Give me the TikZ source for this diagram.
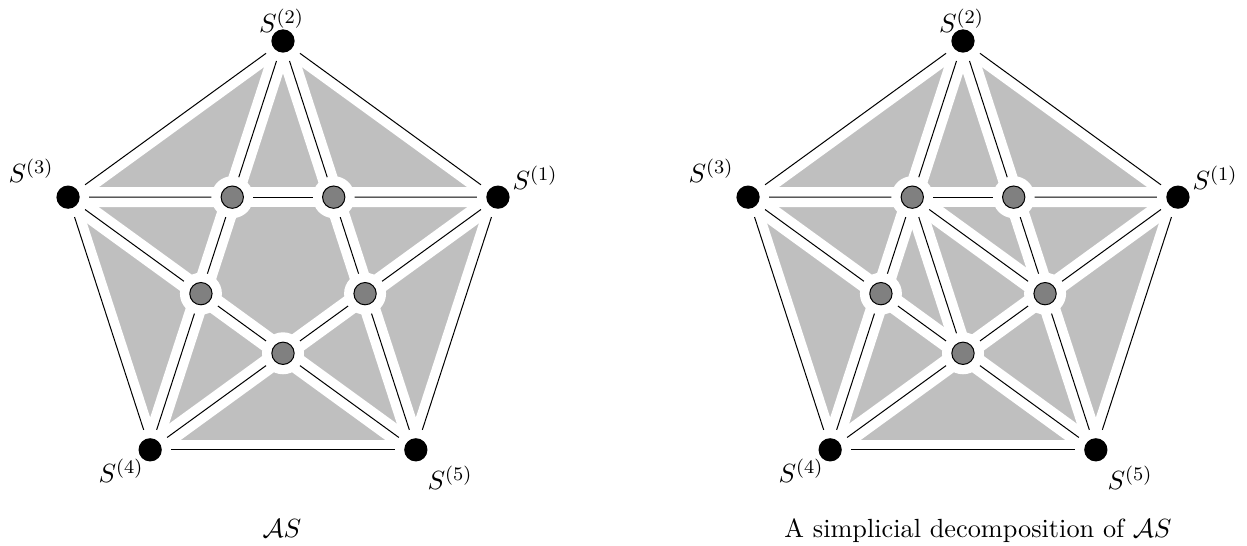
\documentclass[tikz,border=0pt]{standalone}
\usepackage{amsmath}
\begin{document}
\begin{tikzpicture}[x=0.41667pt,y=0.41667pt,
  face/.style={fill=black!25, draw=none},
  band/.style={draw=white, line width=8.33pt, line cap=round},
  edge/.style={draw=black, line width=0.42pt},
  halo/.style={circle, fill=white, draw=none, minimum size=17.5pt, inner sep=0pt, outer sep=0pt},
  outerdot/.style={circle, fill=black, draw=none, minimum size=9.7pt, inner sep=0pt},
  innerdot/.style={circle, fill=black!50, draw=black, line width=0.42pt, minimum size=9.3pt, inner sep=0pt},
  lab/.style={anchor=base, inner sep=0pt, font=\fontsize{10.95}{13}\selectfont}
]
\useasboundingbox (0,0) rectangle (1247,546);
\def\commonedges{a1/a2, a2/a3, a3/a4, a4/a5, a5/a1, a2/p1, a2/p2, a3/p1, a3/p3, a4/p3, a4/p5, a5/p5, a5/p4, a1/p4, a1/p2, p1/p2, p2/p4, p4/p5, p5/p3, p3/p1}
\def\extraedges{p1/p4, p1/p5}
% coordinates
\foreach \P/\cx in {L/283, R/963} {
  \begin{scope}[shift={(\cx,279)}]
    \foreach \i/\a in {1/18, 2/90, 3/162, 4/234, 5/306}
      \coordinate (\P a\i) at (\a:226);
    \foreach \i/\a in {1/126, 2/54, 3/198, 4/342, 5/270}
      \coordinate (\P p\i) at (\a:86.3);
  \end{scope}
}
% gray faces
\foreach \P in {L, R}
  \fill[face] (\P a1) -- (\P a2) -- (\P a3) -- (\P a4) -- (\P a5) -- cycle;
% white bands
\foreach \P in {L, R}
  \foreach \u/\v in \commonedges
    \draw[band] (\P\u) -- (\P\v);
\foreach \u/\v in \extraedges
  \draw[band] (R\u) -- (R\v);
% halos
\foreach \P in {L, R} {
  \foreach \i in {1,...,5} {
    \node[halo] (\P a\i h) at (\P a\i) {};
    \node[halo] (\P p\i h) at (\P p\i) {};
  }
}
% thin edges
\foreach \P in {L, R}
  \foreach \u/\v in \commonedges
    \draw[edge] (\P\u h) -- (\P\v h);
\foreach \u/\v in \extraedges
  \draw[edge] (R\u h) -- (R\v h);
% dots
\foreach \P in {L, R} {
  \foreach \i in {1,...,5} {
    \node[outerdot] (\P a\i d) at (\P a\i) {};
    \node[innerdot] (\P p\i d) at (\P p\i) {};
  }
}
% labels
\foreach \P/\dx in {L/0, R/680} {
  \begin{scope}[shift={(\dx,0)}]
    \node[lab] (\P l2) at (281.5,513) {$S^{(2)}$};
    \node[lab] (\P l3) at (31,363) {$S^{(3)}$};
    \node[lab] (\P l1) at (535,356) {$S^{(1)}$};
    \node[lab] (\P l4) at (121,63) {$S^{(4)}$};
    \node[lab] (\P l5) at (450,56) {$S^{(5)}$};
  \end{scope}
}
\node[lab] (Lcap) at (282,8) {$\mathcal{A}S$};
\node[lab] (Rcap) at (978,8) {A simplicial decomposition of $\mathcal{A}S$};
\end{tikzpicture}
\end{document}
